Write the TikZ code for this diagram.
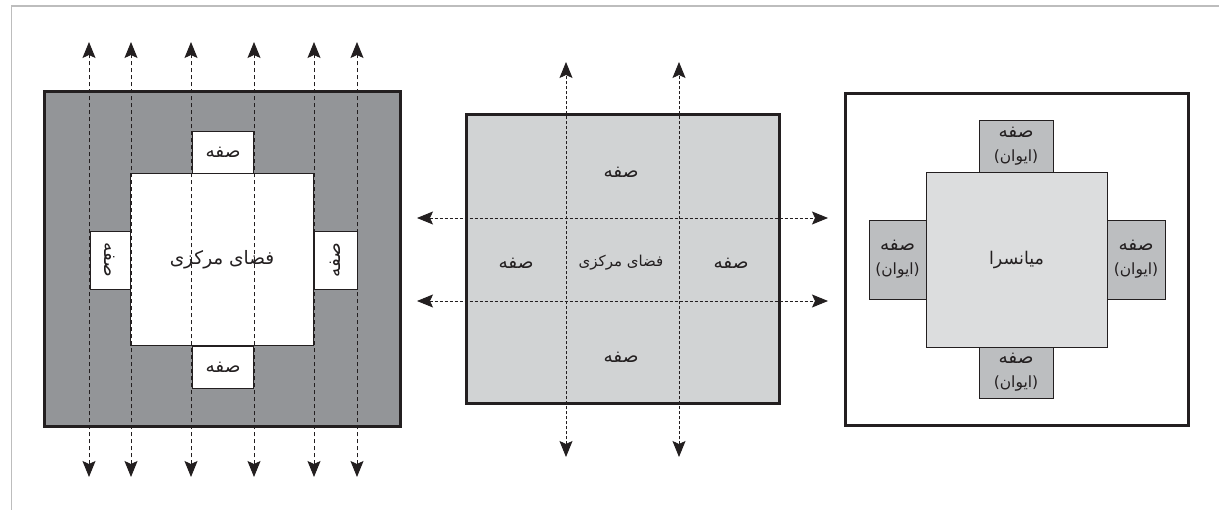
\documentclass[tikz,border=0pt]{standalone}
\usepackage{fontspec}
\usetikzlibrary{arrows.meta}
\newfontfamily\arabicfont[Script=Arabic]{DejaVu Sans}
\TeXXeTstate=1
\definecolor{ink}{HTML}{231F20}
\definecolor{wallgray}{HTML}{939598}
\definecolor{hallgray}{HTML}{D1D3D4}
\definecolor{courtgray}{HTML}{DCDDDE}
\definecolor{iwangray}{HTML}{BCBEC0}
\definecolor{framegray}{HTML}{BDBDBD}
\newcommand{\rtl}[1]{\beginR #1\endR}
\newcommand{\sofe}{\rtl{صفه}}
\newcommand{\iwan}{\rtl{صفه}\\\fontsize{15.5}{24}\selectfont\rtl{(ایوان)}}

\begin{document}
\begin{tikzpicture}[x=1pt,y=-1pt,>={Stealth[length=16pt,width=13pt,inset=3pt]},
		font=\arabicfont\fontsize{18.5}{24}\selectfont,text=ink]
		\tikzstyle{every node}=[inner sep=0pt,outer sep=0pt]
		\tikzstyle{outerbox}=[draw=ink,line width=3pt]
		\tikzstyle{innerbox}=[draw=ink,line width=0.8pt]
		\tikzstyle{flowline}=[<->,ink,line width=1pt,dash pattern=on 4pt off 3pt]
		\tikzstyle{thinflow}=[<->,ink,line width=0.9pt,dash pattern=on 3pt off 2pt]
		
		\useasboundingbox (0,0) rectangle (1219,510);
		
		\coordinate (frametop) at (1219,6);
		\coordinate (framecorner) at (11.5,6);
		\coordinate (framebottom) at (11.5,510);
		\draw[framegray,line width=1.4pt] (frametop) -- (framecorner) -- (framebottom);
		
		\node[outerbox,fill=wallgray,minimum width=356,minimum height=335] (wall) at (222,259.5) {};
		\node[innerbox,fill=white,minimum width=183,minimum height=172] (centerA) at (222,259.5) {\fontsize{18.5}{22}\selectfont\rtl{فضای مرکزی}};
		\node[innerbox,fill=white,minimum width=61,minimum height=42] (northA) at (223,152) {\sofe};
		\node[innerbox,fill=white,minimum width=61,minimum height=42] (southA) at (223,367.5) {\sofe};
		\node[innerbox,fill=white,minimum width=40,minimum height=58] (westA) at (110,260) {\rotatebox{-90}{\sofe}};
		\node[innerbox,fill=white,minimum width=43,minimum height=58] (eastA) at (335.5,260) {\rotatebox{90}{\sofe}};
		
		\node[outerbox,fill=hallgray,minimum width=313,minimum height=289] (hall) at (622.5,259.5) {};
		\node (northB) at (621,172) {\sofe};
		\node (southB) at (621,357) {\sofe};
		\node (westB) at (516,263) {\sofe};
		\node (eastB) at (731,263) {\sofe};
		\node (centerB) at (621,263) {\fontsize{15}{17}\selectfont\rtl{فضای مرکزی}};
		
		\node[outerbox,minimum width=343,minimum height=332] (yard) at (1016.5,260) {};
		\node[innerbox,fill=iwangray,align=center,minimum width=74,minimum height=52] (northC) at (1016,146) {\iwan};
		\node[innerbox,fill=iwangray,align=center,minimum width=74,minimum height=52] (southC) at (1016,372.5) {\iwan};
		\node[innerbox,fill=iwangray,align=center,minimum width=57,minimum height=79] (westC) at (897.5,259.5) {\iwan};
		\node[innerbox,fill=iwangray,align=center,minimum width=58,minimum height=79] (eastC) at (1136,259.5) {\iwan};
		\node[innerbox,fill=courtgray,minimum width=181,minimum height=175] (court) at (1016.5,259.5) {\fontsize{17.5}{20}\selectfont\rtl{میانسرا}};
		
		\foreach \n/\x in {a/89,b/131,c/191,d/254,e/314,f/357}{
			\coordinate (up\n) at (\x,42);
			\coordinate (down\n) at (\x,477);
			\draw[flowline] (down\n) -- (up\n);
		}
		\foreach \n/\x in {g/566,h/679}{
			\coordinate (up\n) at (\x,62);
			\coordinate (down\n) at (\x,457);
			\draw[thinflow] (down\n) -- (up\n);
		}
		\foreach \n/\y in {i/218,j/301}{
			\coordinate (left\n) at (417,\y);
			\coordinate (right\n) at (828,\y);
			\draw[thinflow] (left\n) -- (right\n);
		}
\end{tikzpicture}
\end{document}
